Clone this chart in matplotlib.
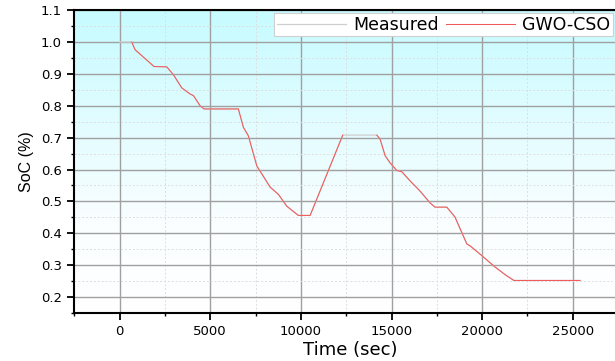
import numpy as np
import matplotlib
matplotlib.use('Agg')
import matplotlib.pyplot as plt
from matplotlib.colors import LinearSegmentedColormap
from matplotlib.ticker import MultipleLocator, FormatStrFormatter

plt.rcParams['font.family'] = ['DejaVu Sans']

nan = np.nan

# data
time_sec = [0, 670, 850, 1900, 2600, 2960, 3430, 3885, 4070, 4440, 4660, 6550,
            6830, 7100, 7570, 7750, 8300, 8760, 9220, 9860, 10510, 12310, 13250,
            14190, 14370, 14650, 14920, 15290, 15570, 16030, 16580, 17130, 17400,
            18050, 18500, 19150, 19370, 20020, 20670, 21320, 21750, 25400]
measured = [1.0, 1.0, 0.976, 0.923, 0.922, 0.898, 0.856, 0.837, 0.832, 0.80, 0.79,
            0.79, 0.732, 0.706, 0.611, 0.595, 0.545, 0.522, 0.485, 0.456, 0.456,
            0.708, 0.708, 0.708, 0.695, 0.643, 0.621, 0.597, 0.593, 0.564, 0.532,
            0.495, 0.482, 0.482, 0.451, 0.367, 0.359, 0.328, 0.296, 0.268, 0.252,
            0.252]
# red trace is not visible on the first flat and on the 0.71 plateau
gwo_cso = [nan, 1.0, 0.976, 0.923, 0.922, 0.898, 0.856, 0.837, 0.832, 0.80, 0.79,
           0.79, 0.732, 0.706, 0.611, 0.595, 0.545, 0.522, 0.485, 0.456, 0.456,
           0.708, nan, 0.708, 0.695, 0.643, 0.621, 0.597, 0.593, 0.564, 0.532,
           0.495, 0.482, 0.482, 0.451, 0.367, 0.359, 0.328, 0.296, 0.268, 0.252,
           0.252]

fig = plt.figure(figsize=(6.15, 3.61), dpi=100)
ax = fig.add_axes([0.1208, 0.133, 0.899, 0.839])
ax.spines['right'].set_visible(False)

# cyan-to-white gradient background
cmap = LinearSegmentedColormap.from_list('bg', [(0, '#ffffff'), (0.3, '#fafeff'),
                                                (1.0, '#c6fbff')])
grad = np.linspace(0, 1, 256).reshape(-1, 1)
ax.imshow(grad, cmap=cmap, aspect='auto', origin='lower',
          extent=[0, 1, 0, 1], transform=ax.transAxes, zorder=0)

ax.set_xlim(-2500, 28000)
ax.set_ylim(0.15, 1.1)

ax.xaxis.set_major_locator(MultipleLocator(5000))
ax.xaxis.set_minor_locator(MultipleLocator(2500))
ax.yaxis.set_major_locator(MultipleLocator(0.1))
ax.yaxis.set_minor_locator(MultipleLocator(0.05))
ax.set_xticks([0, 5000, 10000, 15000, 20000, 25000])
ax.yaxis.set_major_formatter(FormatStrFormatter('%.1f'))

ax.grid(which='major', color='#a0a0a0', lw=1.0, zorder=1)
ax.grid(which='minor', color='#dedede', lw=0.7, ls=(0, (2, 2)), zorder=1)
ax.set_axisbelow(True)

ax.plot(time_sec, measured, color='#cfcfcf', lw=0.9, label='Measured', zorder=3)
ax.plot(time_sec, gwo_cso, color='#f25a5a', lw=0.75, label='GWO-CSO', zorder=4)

for s in ['left', 'bottom', 'top']:
    ax.spines[s].set_linewidth(1.5)
ax.tick_params(which='major', direction='out', length=5, width=1.3,
               labelsize=9.5, pad=4, top=False, right=False)
ax.tick_params(which='minor', direction='out', length=2.5, width=1.0,
               top=False, right=False)

ax.set_xlabel('Time (sec)', fontsize=13, labelpad=2)
ax.set_ylabel('SoC (%)', fontsize=11.5, family='Liberation Sans', labelpad=5)

leg = ax.legend(loc='upper right', ncol=2, fontsize=12.5, frameon=True,
                fancybox=False, edgecolor='#d0d0d0', framealpha=1,
                handlelength=4.0, columnspacing=0.4, handletextpad=0.4,
                borderpad=0.15, borderaxespad=0,
                bbox_to_anchor=(613 / 615, 348 / 361),
                bbox_transform=fig.transFigure)
leg.get_frame().set_linewidth(0.8)

fig.savefig('out.png', dpi=100)
